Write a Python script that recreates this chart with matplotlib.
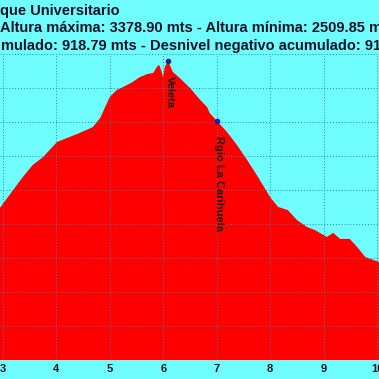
import matplotlib.pyplot as plt

# profile (km, metres)
distance = [2.94, 3.19, 3.37, 3.56, 3.75, 4.01, 4.20, 4.44, 4.68, 4.82,
            5.00, 5.13, 5.25, 5.43, 5.56, 5.70, 5.81, 5.88, 5.92, 5.96,
            5.995, 6.03, 6.088, 6.18, 6.31, 6.50, 6.69, 6.82, 6.87, 7.005,
            7.19, 7.38, 7.57, 7.75, 8.00, 8.15, 8.33, 8.50, 8.69, 8.84,
            9.06, 9.18, 9.31, 9.49, 9.63, 9.78, 10.04]
altitude = [2947, 3000, 3038, 3074, 3097, 3141, 3153, 3168, 3185, 3212,
            3274, 3294, 3303, 3318, 3332, 3341, 3344, 3362, 3368, 3353,
            3332, 3362, 3378.9, 3347, 3329, 3300, 3265, 3244, 3226, 3203,
            3171, 3132, 3088, 3044, 2979, 2950, 2941, 2912, 2891, 2882,
            2862, 2874, 2856, 2856, 2832, 2803, 2788]

waypoints = ['Veleta', 'Rgio La Carihuela']
waypoint_km = [6.088, 7.005]
waypoint_alt = [3378.9, 3203]

title_lines = ['que Universitario',
               'Altura máxima: 3378.90 mts - Altura mínima: 2509.85 mts',
               'mulado: 918.79 mts - Desnivel negativo acumulado: 918.79 mts']
title_x = [0.0, 0.0, 1.0]  # pixels, where each cropped line starts
x_ticks = [3, 4, 5, 6, 7, 8, 9, 10]
y_ticks = list(range(2500, 3401, 100))

bg = '#6ffcfc'
ink = '#141428'

fig = plt.figure(figsize=(3.79, 3.79), dpi=100, facecolor=bg)
ax = fig.add_axes([0, 19 / 379, 1, 306 / 379])
ax.set_facecolor(bg)

ax.fill_between(distance, altitude, 2500, color='#ff0000', linewidth=0, zorder=1)
ax.plot(waypoint_km, waypoint_alt, 'o', ms=3, color='#2020a0', zorder=3)

for name, km, alt in zip(waypoints, waypoint_km, waypoint_alt):
    ax.annotate(name, (km, alt), xytext=(2, -15), textcoords='offset pixels',
                rotation=270, ha='center', va='top', fontsize=8,
                fontweight='bold', family='Liberation Sans', color='#1a1a1a',
                zorder=4)

ax.set_xlim(3 - 3 / 53.43, 3 + 376 / 53.43)
ax.set_ylim(2500, 3400)
ax.set_xticks(x_ticks)
ax.set_yticks(y_ticks)
ax.grid(True, linestyle=(0, (1, 2)), color='#2f86b4', linewidth=0.7, zorder=2)
ax.set_axisbelow(False)
ax.tick_params(axis='x', length=0, pad=3, labelsize=8, labelcolor=ink)
ax.tick_params(axis='y', left=False, labelleft=False)
for lbl in ax.get_xticklabels():
    lbl.set_fontweight('bold')
    lbl.set_family('Liberation Sans')
for s in ax.spines.values():
    s.set_visible(False)

for i, line in enumerate(title_lines):
    fig.text(title_x[i] / 379, 1 - (15 + 17.5 * i) / 379, line, ha='left',
             va='baseline', fontsize=10.5, fontweight='bold',
             family='Liberation Sans', color=ink)

fig.savefig('out.png', dpi=100, facecolor=bg)
